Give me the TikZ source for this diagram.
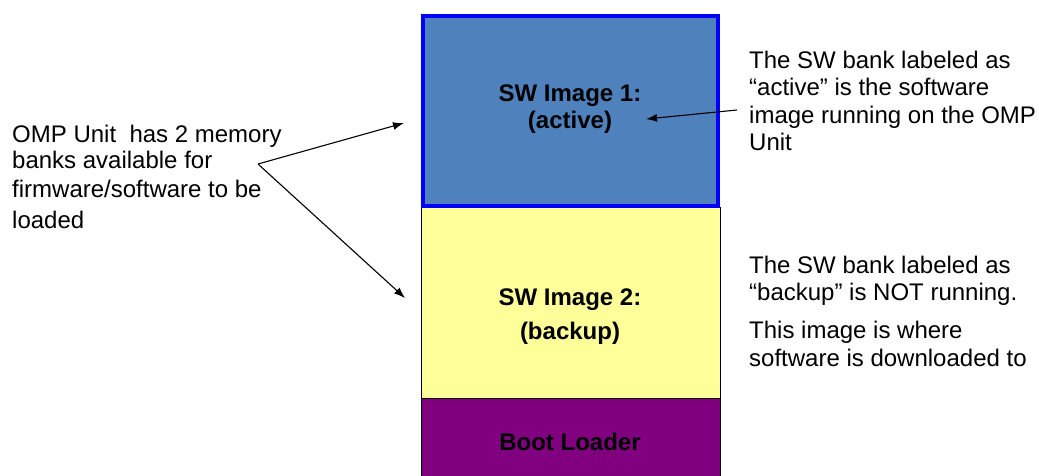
\documentclass[tikz,border=0pt]{standalone}
\usepackage{fontspec}
\setmainfont{Liberation Sans}
\usetikzlibrary{arrows.meta}
\definecolor{imgblue}{HTML}{4F81BD}
\definecolor{brdblue}{HTML}{0000FF}
\definecolor{imgyellow}{HTML}{FFFF99}
\definecolor{imgpurple}{HTML}{800080}
\tikzset{
  txt/.style={anchor=base west, inner sep=0pt, font=\fontsize{24}{27}\selectfont},
  lbl/.style={anchor=base, inner sep=0pt, font=\fontsize{24}{27}\selectfont\bfseries},
  arr/.style={-{Latex[length=11pt,width=8pt]}, line width=1.1pt}
}
\begin{document}
\begin{tikzpicture}[x=1pt,y=-1pt]
\useasboundingbox (0,0) rectangle (1039,475);
% boxes
\path[fill=imgpurple, draw=black, line width=1pt] (421,398) rectangle (720,480);
\path[fill=imgyellow, draw=black, line width=1pt] (421,207) rectangle (720,398);
\path[fill=imgblue, draw=brdblue, line width=4pt] (423,16) rectangle (718,206);
% box labels
\node[lbl] (l1a) at (570,101) {SW Image 1:};
\node[lbl] (l1b) at (570,128) {(active)};
\node[lbl] (l2a) at (570,305) {SW Image 2:};
\node[lbl] (l2b) at (570,339) {(backup)};
\node[lbl] (l3) at (570,450) {Boot Loader};
% left text
\node[txt] (t1) at (12,142) {OMP Unit \ has 2 memory};
\node[txt] (t2) at (12,168) {banks available for};
\node[txt] (t3) at (12,197) {firmware/software to be};
\node[txt] (t4) at (12,228) {loaded};
% right top text
\node[txt] (r1) at (749,68) {The SW bank labeled as};
\node[txt] (r2) at (749,95) {“active” is the software};
\node[txt] (r3) at (749,123) {image running on the OMP};
\node[txt] (r4) at (749,150) {Unit};
% right bottom text
\node[txt] (s1) at (749,273) {The SW bank labeled as};
\node[txt] (s2) at (749,300) {“backup” is NOT running.};
\node[txt] (s3) at (749,338) {This image is where};
\node[txt] (s4) at (749,366) {software is downloaded to};
% arrows
\coordinate (fork) at (258,164);
\coordinate (tipA) at (404,123);
\coordinate (tipB) at (405,298);
\coordinate (rstart) at (737,110);
\coordinate (tipC) at (646,119);
\draw[arr] (fork) -- (tipA);
\draw[arr] (fork) -- (tipB);
\draw[arr] (rstart) -- (tipC);
\end{tikzpicture}
\end{document}
